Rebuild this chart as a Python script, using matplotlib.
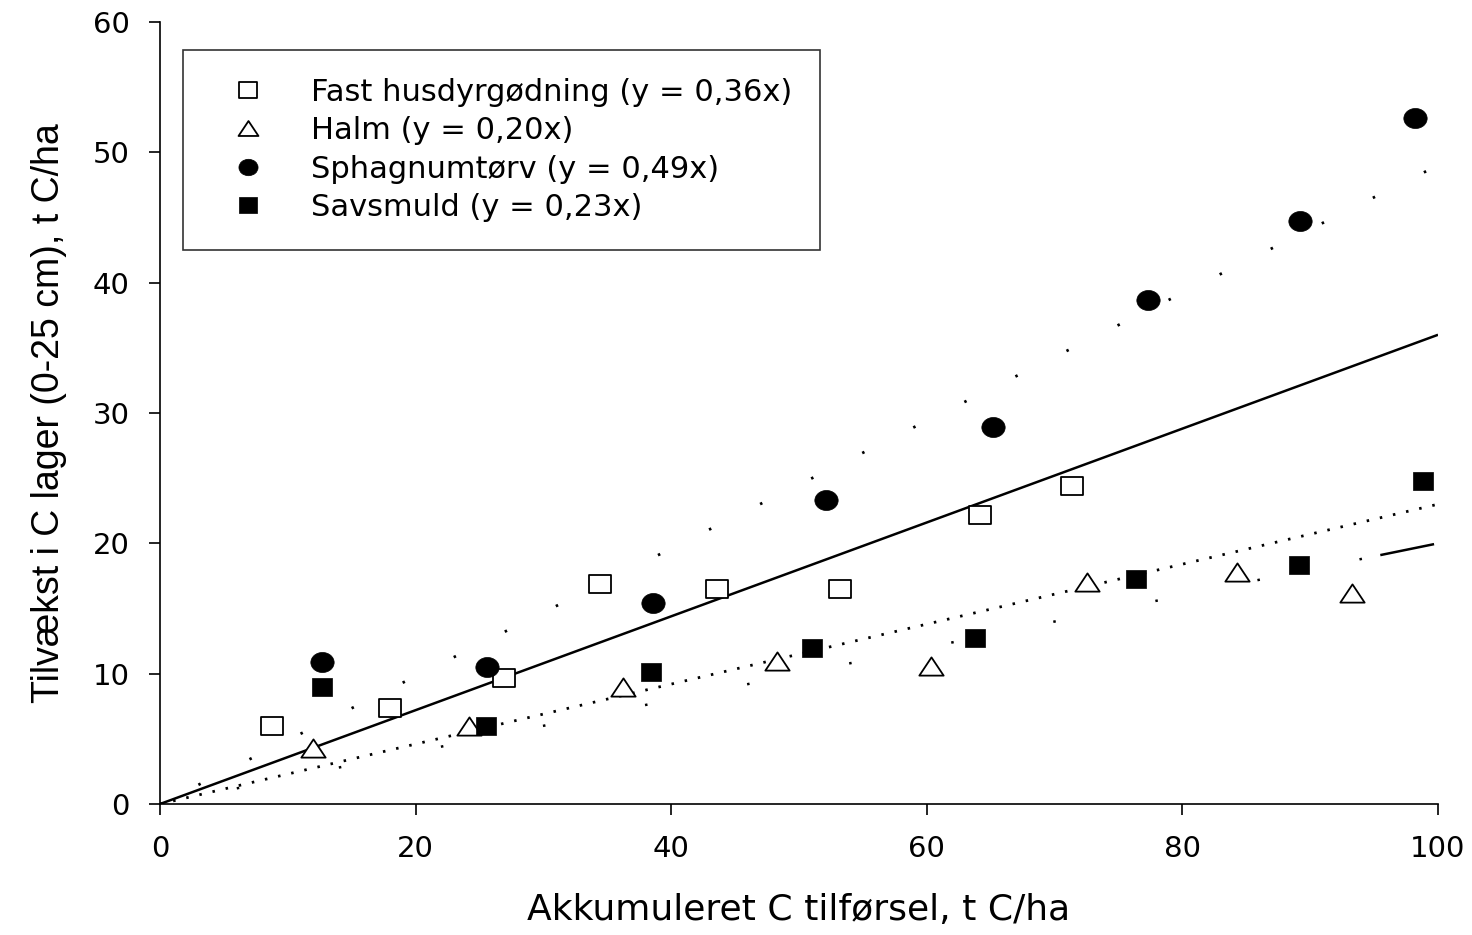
import numpy as np
import matplotlib

matplotlib.use("Agg")

import matplotlib.pyplot as plt
from matplotlib.path import Path


# data (x = accumulated C input, y = C stock increase)
fast_x = [8.8, 18.0, 26.9, 34.4, 43.6, 53.2, 64.2, 71.4]
fast_y = [6.0, 7.4, 9.7, 16.9, 16.5, 16.5, 22.2, 24.4]

halm_x = [12.0, 24.2, 36.2, 48.3, 60.3, 72.5, 84.3, 93.3]
halm_y = [4.3, 6.0, 9.0, 11.0, 10.6, 17.0, 17.8, 16.2]

sphag_x = [12.7, 25.6, 38.6, 52.1, 65.2, 77.3, 89.2, 98.2]
sphag_y = [10.9, 10.5, 15.4, 23.3, 28.9, 38.7, 44.7, 52.6]

savs_x = [12.7, 25.5, 38.4, 51.0, 63.8, 76.4, 89.1, 98.8]
savs_y = [9.0, 6.0, 10.1, 12.0, 12.7, 17.3, 18.3, 24.8]

# fitted slopes (regression through origin)
slope_fast = 0.36
slope_halm = 0.20
slope_sphag = 0.49
slope_savs = 0.23

labels = [
    "Fast husdyrgødning (y = 0,36x)",
    "Halm (y = 0,20x)",
    "Sphagnumtørv (y = 0,49x)",
    "Savsmuld (y = 0,23x)",
]

x_label = "Akkumuleret C tilførsel, t C/ha"
y_label = "Tilvækst i C lager (0-25 cm), t C/ha"


# slightly wide markers, the original is stretched sideways
def box_marker(ratio):
    return Path([(-1, -ratio), (1, -ratio), (1, ratio), (-1, ratio), (-1, -ratio)],
                closed=True)


def tri_marker(ratio):
    return Path([(0, ratio), (-1, -ratio), (1, -ratio), (0, ratio)], closed=True)


def ellipse_marker(ratio):
    circ = Path.unit_circle()
    verts = circ.vertices.copy()
    verts[:, 1] = verts[:, 1] * ratio
    return Path(verts, circ.codes)


def dashes_pt(seq_pt, lw):
    # dash lengths given in points, matplotlib wants them in linewidths
    return [v / lw for v in seq_pt]


sq_marker = box_marker(0.88)
triangle = tri_marker(0.75)
ellipse = ellipse_marker(0.86)

fig = plt.figure(figsize=(14.72, 9.35), dpi=100)
ax = fig.add_axes([0.1087, 0.1401, 0.8682, 0.8364])

xx = np.array([0, 100])
lw_solid = 1.8
lw_dot = 2.0

# regression lines
ax.plot(xx, slope_fast * xx, color="black", lw=lw_solid, solid_capstyle="butt")

# dotted lines
ax.plot(xx, slope_savs * xx, color="black", lw=lw_dot,
        linestyle=(0, dashes_pt([1.8, 7.9], lw_dot)))
ax.plot(xx, slope_sphag * xx, color="black", lw=lw_dot,
        linestyle=(10.2 / lw_dot, dashes_pt([1.8, 39.3], lw_dot)))

# halm: sparse dots, then one long dash at the end
halm_pt = [0.01, 56.4] + [1.8, 73.2] * 11 + [1.8, 13.5, 39.5, 3000]
ax.plot(xx, slope_halm * xx, color="black", lw=lw_solid,
        linestyle=(0, dashes_pt(halm_pt, lw_solid)))

# points
ax.plot(fast_x, fast_y, linestyle="none", marker=sq_marker, ms=15.5,
        mfc="white", mec="black", mew=1.3, label=labels[0])
ax.plot(halm_x, halm_y, linestyle="none", marker=triangle, ms=17.5,
        mfc="white", mec="black", mew=1.3, label=labels[1])
ax.plot(sphag_x, sphag_y, linestyle="none", marker=ellipse, ms=16.8,
        mfc="black", mec="black", mew=0.5, label=labels[2])
ax.plot(savs_x, savs_y, linestyle="none", marker=sq_marker, ms=15,
        mfc="black", mec="black", mew=0.5, label=labels[3])

ax.set_xlim(0, 100)
ax.set_ylim(0, 60)
ax.set_xticks([0, 20, 40, 60, 80, 100])
ax.set_yticks([0, 10, 20, 30, 40, 50, 60])

ax.spines["top"].set_visible(False)
ax.spines["right"].set_visible(False)
ax.spines["left"].set_linewidth(1.2)
ax.spines["bottom"].set_linewidth(1.2)

ax.tick_params(direction="out", length=8, width=1.2, pad=14,
               labelsize=21, labelfontfamily="DejaVu Sans")

ax.set_xlabel(x_label, fontsize=26, family="DejaVu Sans", labelpad=22)
ax.set_ylabel(y_label, fontsize=27, family="Liberation Sans", labelpad=18)

leg = ax.legend(loc="upper left", bbox_to_anchor=(0.018, 0.964),
                prop={"family": "DejaVu Sans", "size": 22},
                markerscale=0.82, frameon=True, fancybox=False,
                borderpad=0.9, handlelength=2.45, handletextpad=0.85,
                labelspacing=0.31, borderaxespad=0)
leg.get_frame().set_edgecolor("black")
leg.get_frame().set_linewidth(1.2)

fig.savefig("out.png", dpi=100)
